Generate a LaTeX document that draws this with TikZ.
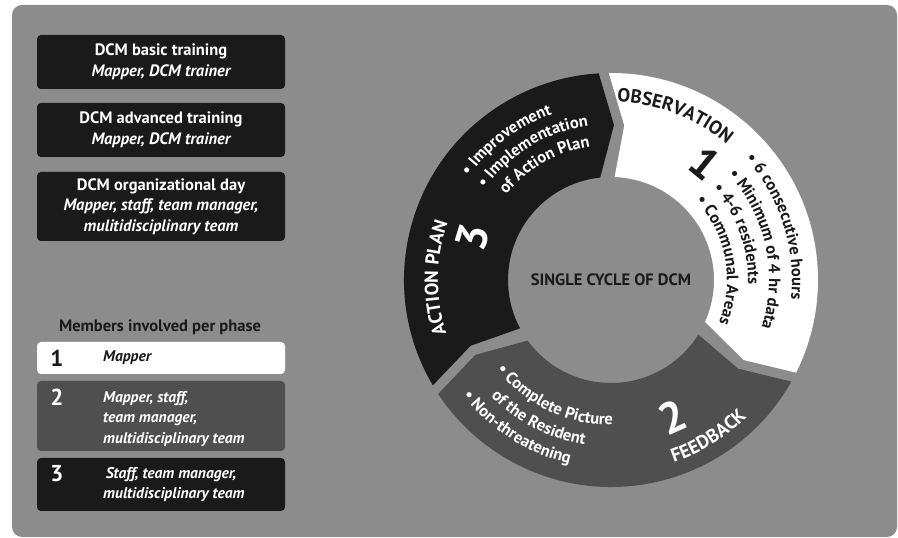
\documentclass[tikz,border=0pt]{standalone}
\usepackage{fontspec}
\setmainfont{PT Sans}
\usetikzlibrary{calc,decorations.text}

\definecolor{panelgray}{HTML}{8C8C8C}
\definecolor{segblack}{HTML}{1A1A1A}
\definecolor{seggray}{HTML}{4F4F4F}

\newcommand{\ringfont}{\bfseries\fontsize{16.5}{18}\selectfont}
\newcommand{\phasefont}{\bfseries\fontsize{19}{22}\selectfont}

% one piece of the ring, clockwise from #2 (notched end) to #3 (pointed end)
\newcommand{\ringpiece}[3]{%
  \pgfmathsetmacro{\aout}{#2-1.4}\pgfmathsetmacro{\bout}{#3+1.4}
  \pgfmathsetmacro{\ain}{#2-4}\pgfmathsetmacro{\bin}{#3+4}
  \pgfmathsetmacro{\anotch}{#2-6.9}\pgfmathsetmacro{\btip}{#3-3.1}
  \fill[#1] ($(C)+(\aout:207pt)$) arc[start angle=\aout,end angle=\bout,radius=207pt]
    -- ($(C)+(\btip:155pt)$) -- ($(C)+(\bin:103pt)$)
    arc[start angle=\bin,end angle=\ain,radius=103pt]
    -- ($(C)+(\anotch:155pt)$) -- cycle;}

% text set along an arc round the centre
\newcommand{\arctext}[6]{%
  \path[decorate,decoration={text along path,text color=#1,text={|#2|#6}}]
    ($(C)+(#4:#3pt)$) arc[start angle=#4,end angle=#5,radius=#3pt];}

\tikzset{
  trainbox/.style={fill=segblack,text=white,rounded corners=4pt,minimum width=248pt,
    inner sep=0pt,align=center,font=\bfseries\fontsize{16.5}{20.5}\selectfont},
  phasebox/.style={fill=#1,rounded corners=4pt,minimum width=248pt,inner sep=0pt},
  phasenum/.style={font=\bfseries\fontsize{23}{24}\selectfont,inner sep=0pt},
  phasetext/.style={anchor=west,align=left,inner sep=0pt,
    font=\bfseries\itshape\fontsize{15.5}{20.5}\selectfont},
  bignum/.style={font=\bfseries\fontsize{44}{44}\selectfont,inner sep=0pt}
}

\begin{document}
\begin{tikzpicture}[x=1pt,y=1pt]
  \useasboundingbox (0,0) rectangle (898,538);
  \fill[white] (0,0) rectangle (898,538);
  \fill[panelgray,rounded corners=10pt] (12,1) rectangle (897,533);

  % training steps
  \node[trainbox,minimum height=54pt] (train1) at (161,476)
    {DCM basic training\\\itshape Mapper, DCM trainer};
  \node[trainbox,minimum height=54pt] (train2) at (161,408)
    {DCM advanced training\\\itshape Mapper, DCM trainer};
  \node[trainbox,minimum height=69pt] (train3) at (161,331.5)
    {DCM organizational day\\\itshape Mapper, staff, team manager,\\\itshape mulitidisciplinary team};

  % members per phase
  \node[font=\bfseries\fontsize{16.5}{18}\selectfont,text=segblack] (members) at (160,211)
    {Members involved per phase};
  \node[phasebox=white,minimum height=32pt] (phase1) at (161,180) {};
  \node[phasebox=seggray,minimum height=70pt] (phase2) at (161,122) {};
  \node[phasebox=segblack,minimum height=53pt] (phase3) at (161,53.5) {};
  \node[phasenum,text=segblack] (num1) at (57,180) {1};
  \node[phasenum,text=white] (num2) at (57,141) {2};
  \node[phasenum,text=white] (num3) at (57,64) {3};
  \node[phasetext,text=segblack] (who1) at (103,180) {Mapper};
  \node[phasetext,text=white] (who2) at (103,119)
    {Mapper, staff,\\team manager,\\multidisciplinary team};
  \node[phasetext,text=white] (who3) at (103,53.5)
    {\,Staff, team manager,\\multidisciplinary team};

  % the cycle
  \coordinate (C) at (611,258);
  \ringpiece{white}{92}{-28}
  \ringpiece{seggray}{-28}{-148}
  \ringpiece{segblack}{212}{92}
  \node[font=\bfseries\fontsize{16.5}{18}\selectfont,text=segblack] (cycle) at (C)
    {SINGLE CYCLE OF DCM};

  % 1 observation
  \arctext{segblack}{\phasefont}{178}{88}{20}{OBSERVATION}
  \node[bignum,text=segblack,rotate=-39] (one) at ($(C)+(51:150pt)$) {1};
  \arctext{segblack}{\ringfont}{181}{42}{-40}{• 6 consecutive hours}
  \arctext{segblack}{\ringfont}{158}{42}{-40}{• Minimum of 4 hr data}
  \arctext{segblack}{\ringfont}{137}{42}{-40}{• 4-6 residents}
  \arctext{segblack}{\ringfont}{116}{43}{-40}{• Communal Areas}

  % 2 feedback
  \arctext{white}{\phasefont}{193}{-71}{0}{FEEDBACK}
  \node[bignum,text=white,rotate=24] (two) at ($(C)+(-65.7:150pt)$) {2};
  \arctext{white}{\ringfont}{145}{-142}{-60}{• Complete Picture}
  \arctext{white}{\ringfont}{167}{-136}{-60}{of the Resident}
  \arctext{white}{\ringfont}{188}{-142}{-60}{• Non-threatening}

  % 3 action plan
  \arctext{white}{\phasefont}{173}{198}{140}{ACTION PLAN}
  \node[bignum,text=white,rotate=73] (three) at ($(C)+(162.7:145pt)$) {3};
  \arctext{white}{\ringfont}{176}{144}{60}{• Improvement}
  \arctext{white}{\ringfont}{156}{144}{60}{• Implementation}
  \arctext{white}{\ringfont}{135}{141}{60}{of Action Plan}
\end{tikzpicture}
\end{document}
